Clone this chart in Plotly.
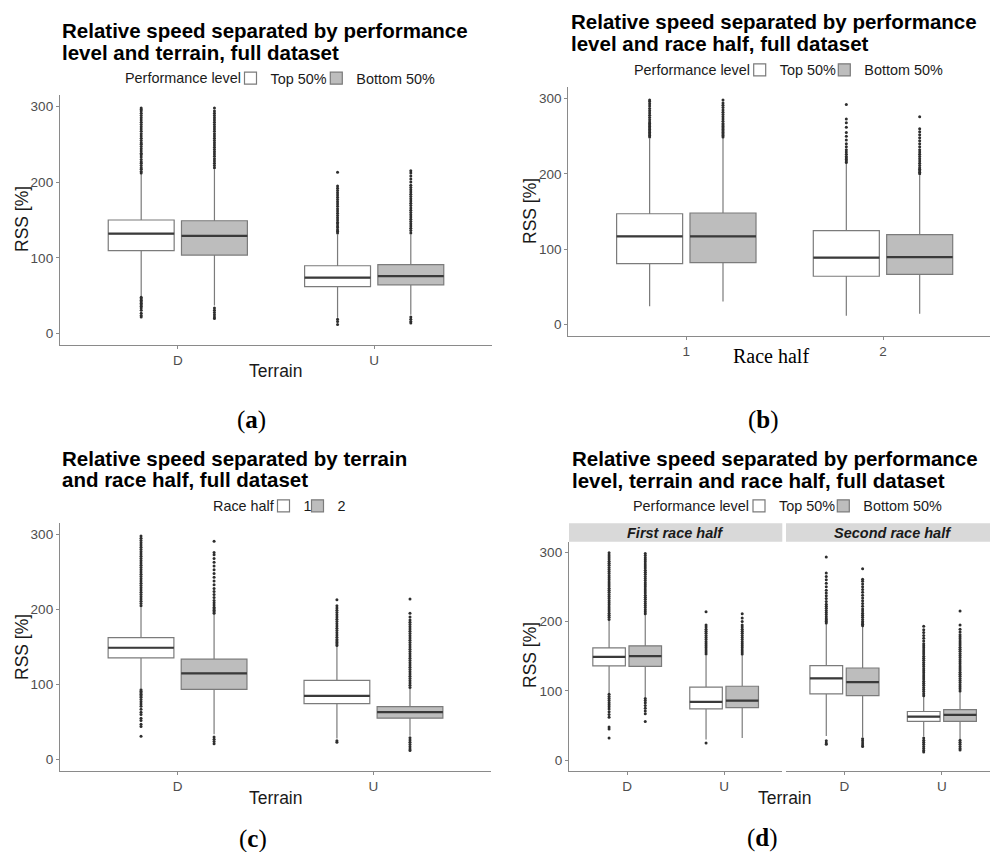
import plotly.graph_objects as go

# ---------------- data ----------------
TERRAIN = ["D", "U"]
HALVES = ["1", "2"]

# five-number boxes per category: [lower whisker, Q1, median, Q3, upper whisker]
# (a) performance level x terrain
a_top = [[49, 109.5, 132, 150, 211], [21, 62, 74, 89.6, 131]]
a_bot = [[37, 103.7, 129, 149, 217], [25, 64.4, 76, 91, 131]]
a_top_out = [
    [212, 214, 217, 219, 222, 225, 227, 230, 233, 236, 238, 241, 244, 247, 250, 252, 255, 258, 261, 264,
     267, 270, 273, 276, 279, 282, 285, 288, 291, 294, 296, 298,
     48, 46, 44, 42, 40, 38, 36, 34, 31, 27, 24, 22],
    [133, 135, 137, 140, 142, 145, 147, 150, 153, 156, 159, 162, 165, 168, 171, 174, 177, 180, 183, 186,
     189, 192, 195, 213, 19, 16, 12],
]
a_bot_out = [
    [219, 222, 225, 228, 231, 234, 237, 240, 243, 246, 249, 252, 255, 258, 261, 264, 267, 270, 273, 276,
     279, 282, 285, 288, 291, 294, 298, 34, 31, 28, 25, 22, 20],
    [133, 136, 139, 142, 145, 148, 151, 154, 157, 160, 163, 166, 169, 172, 175, 178, 181, 184, 187, 190,
     193, 196, 200, 204, 208, 212, 215, 22, 19, 16, 14],
]

# (b) performance level x race half
b_top = [[24, 80.7, 117, 147, 247], [11.5, 64, 88.7, 124.6, 214]]
b_bot = [[30.6, 82, 117, 148, 248], [14, 66.5, 89.5, 119.3, 198]]
b_top_out = [
    [249, 251, 253, 255, 257, 259, 261, 263, 265, 267, 269, 272, 275, 278, 281, 284, 287, 290, 293, 296, 298],
    [215, 217, 219, 221, 223, 226, 229, 232, 236, 240, 245, 250, 255, 262, 268, 273, 292],
]
b_bot_out = [
    [249, 251, 253, 255, 257, 259, 261, 263, 265, 267, 270, 273, 276, 279, 282, 285, 288, 291, 294, 298],
    [200, 202, 204, 206, 208, 211, 214, 217, 220, 223, 226, 229, 232, 236, 240, 244, 248, 252, 256, 260, 276],
]

# (c) terrain x race half
c_h1 = [[95, 135.4, 149, 162.4, 203], [28, 74.5, 84.7, 105.5, 151]]
c_h2 = [[33.5, 93.6, 114.7, 133.7, 194], [31.6, 55, 63, 70.6, 94]]
c_h1_out = [
    [205, 208, 211, 214, 217, 220, 223, 226, 229, 232, 235, 238, 241, 244, 247, 250, 253, 256, 259, 262,
     265, 268, 271, 274, 277, 280, 283, 286, 289, 292, 295, 298,
     93, 91, 89, 87, 85, 83, 80, 77, 74, 71, 67, 63, 60, 55, 52, 47, 44, 31],
    [152, 154, 156, 158, 160, 163, 166, 169, 172, 175, 178, 181, 184, 187, 190, 193, 196, 199, 202, 205, 213,
     25, 23],
]
c_h2_out = [
    [195, 197, 199, 201, 203, 206, 209, 212, 216, 220, 224, 228, 233, 238, 243, 248, 253, 258, 263, 268,
     273, 276, 291, 30, 27, 24, 21],
    [96, 99, 102, 105, 108, 111, 114, 117, 120, 123, 126, 129, 132, 135, 138, 141, 144, 147, 150, 153,
     156, 159, 162, 165, 168, 171, 174, 177, 180, 183, 186, 190, 195, 214,
     29, 26, 23, 20, 17, 14, 12],
]

# (d) performance level x terrain, faceted by race half
d1_top = [[97, 136, 149, 162, 201], [30, 74.2, 84.2, 105.3, 151]]
d1_bot = [[91, 135.4, 150, 165, 210], [32, 76, 86, 106.7, 152]]
d2_top = [[35, 95.7, 118, 136.3, 197], [34.6, 56, 63, 70.3, 91.7]]
d2_bot = [[33.7, 93.3, 112.5, 133, 192.6], [30.5, 56, 65.5, 73, 98.5]]
d1_top_out = [
    [203, 206, 209, 212, 215, 218, 221, 224, 227, 230, 233, 236, 239, 242, 245, 248, 251, 254, 257, 260,
     263, 266, 269, 272, 275, 278, 281, 284, 287, 290, 293, 296, 299,
     95, 92, 89, 86, 83, 80, 77, 74, 70, 66, 62, 48, 45, 32],
    [153, 156, 159, 162, 165, 168, 171, 174, 177, 180, 183, 186, 189, 192, 195, 214, 25],
]
d1_bot_out = [
    [211, 214, 217, 220, 223, 226, 229, 232, 235, 238, 241, 244, 247, 250, 253, 256, 259, 262, 265, 268,
     271, 274, 277, 280, 283, 286, 289, 292, 295, 298, 89, 86, 83, 79, 75, 71, 67, 56],
    [153, 156, 159, 162, 165, 168, 171, 174, 177, 180, 183, 186, 189, 192, 195, 200, 205, 211],
]
d2_top_out = [
    [198, 200, 202, 204, 207, 210, 213, 216, 219, 222, 225, 229, 233, 237, 241, 245, 250, 255, 260, 265,
     270, 293, 28, 25, 23],
    [93, 96, 99, 102, 105, 108, 111, 114, 117, 120, 123, 126, 129, 132, 135, 138, 141, 144, 147, 150,
     153, 156, 159, 162, 165, 168, 172, 176, 180, 184, 188, 193,
     32, 29, 26, 23, 20, 17, 14, 12],
]
d2_bot_out = [
    [194, 196, 198, 200, 203, 206, 209, 212, 215, 218, 222, 226, 230, 234, 238, 242, 246, 250, 254, 258,
     261, 276, 31, 28, 25, 22, 20],
    [100, 103, 106, 109, 112, 115, 118, 121, 124, 127, 130, 133, 136, 139, 142, 145, 148, 151, 154, 157,
     160, 163, 166, 169, 172, 175, 178, 181, 185, 189, 195, 215,
     29, 26, 23, 20, 17, 15],
]

Y_TICKS = [0, 100, 200, 300]
Y_RANGE = [-15, 315]

TITLES = [
    ["Relative speed separated by performance", "level and terrain, full dataset"],
    ["Relative speed separated by performance", "level and race half, full dataset"],
    ["Relative speed separated by terrain", "and race half, full dataset"],
    ["Relative speed separated by performance", "level, terrain and race half, full dataset"],
]
PERF_LEVELS = ["Top 50%", "Bottom 50%"]
STRIPS = ["First race half", "Second race half"]

# ---------------- style ----------------
W, H = 990, 852
SANS = "Liberation Sans"
SERIF = "Liberation Serif"
FILL_LIGHT = "#ffffff"
FILL_DARK = "#bdbdbd"
BOX_LINE = "#7b7b7b"
MED_LINE = "#3a3a3a"
DOT = "#2e2e2e"
AXIS = "#8a8a8a"
TICKFONT = dict(family=SANS, size=13.5, color="#4d4d4d")
LEG_FONT = 14.4
ICON_OFFSET = 22   # legend x -> icon centre (px)


def px(x):
    return x / W


def py(y):
    return 1 - y / H


fig = go.Figure()


def add_series(name, cats, stats, outliers, xa, ya, fill, group, legend, showlegend):
    lo = [s[0] for s in stats]
    q1 = [s[1] for s in stats]
    med = [s[2] for s in stats]
    q3 = [s[3] for s in stats]
    hi = [s[4] for s in stats]
    common = dict(xaxis=xa, yaxis=ya, offsetgroup=group, alignmentgroup=xa + ya,
                  legend=legend, hoverinfo="skip", whiskerwidth=0)
    fig.add_trace(go.Box(x=cats, q1=q1, median=med, q3=q3, lowerfence=lo, upperfence=hi,
                         name=name, fillcolor=fill, line=dict(color=BOX_LINE, width=1.2),
                         boxpoints=False, showlegend=showlegend, **common))
    # thicker median bar (ggplot style)
    fig.add_trace(go.Box(x=cats, q1=med, median=med, q3=med, lowerfence=med, upperfence=med,
                         name=name, fillcolor="rgba(0,0,0,0)", line=dict(color=MED_LINE, width=2.2),
                         boxpoints=False, showlegend=False, **common))
    # outliers
    ox = [c for c, vals in zip(cats, outliers) for _ in vals]
    oy = [v for vals in outliers for v in vals]
    fig.add_trace(go.Box(x=ox, y=oy, name=name, boxpoints="all", jitter=0, pointpos=0,
                         marker=dict(color=DOT, size=3, line=dict(width=0)),
                         fillcolor="rgba(0,0,0,0)", line=dict(width=0),
                         showlegend=False, **common))


add_series(PERF_LEVELS[0], TERRAIN, a_top, a_top_out, "x", "y", FILL_LIGHT, "g1", "legend", True)
add_series(PERF_LEVELS[1], TERRAIN, a_bot, a_bot_out, "x", "y", FILL_DARK, "g2", "legend2", True)
add_series(PERF_LEVELS[0], HALVES, b_top, b_top_out, "x2", "y2", FILL_LIGHT, "g1", "legend3", True)
add_series(PERF_LEVELS[1], HALVES, b_bot, b_bot_out, "x2", "y2", FILL_DARK, "g2", "legend4", True)
add_series(HALVES[0], TERRAIN, c_h1, c_h1_out, "x3", "y3", FILL_LIGHT, "g1", "legend5", True)
add_series(HALVES[1], TERRAIN, c_h2, c_h2_out, "x3", "y3", FILL_DARK, "g2", "legend6", True)
add_series(PERF_LEVELS[0], TERRAIN, d1_top, d1_top_out, "x4", "y4", FILL_LIGHT, "g1", "legend7", True)
add_series(PERF_LEVELS[1], TERRAIN, d1_bot, d1_bot_out, "x4", "y4", FILL_DARK, "g2", "legend8", True)
add_series(PERF_LEVELS[0], TERRAIN, d2_top, d2_top_out, "x5", "y5", FILL_LIGHT, "g1", "legend7", False)
add_series(PERF_LEVELS[1], TERRAIN, d2_bot, d2_bot_out, "x5", "y5", FILL_DARK, "g2", "legend8", False)


def xax(x0, x1, anchor, cats, rng):
    return dict(domain=[px(x0), min(1, px(x1))], anchor=anchor, type="category",
                categoryorder="array", categoryarray=cats, range=rng,
                showline=True, linecolor=AXIS, linewidth=1.3, ticks="outside", ticklen=3,
                tickcolor=AXIS, tickwidth=1, showgrid=False, zeroline=False, tickfont=TICKFONT,
                fixedrange=True)


def yax(y_top, y_bot, anchor, show=True):
    d = dict(domain=[py(y_bot), py(y_top)], anchor=anchor, range=Y_RANGE, tickvals=Y_TICKS,
             showgrid=False, zeroline=False, fixedrange=True)
    if show:
        d.update(showline=True, linecolor=AXIS, linewidth=1.3, ticks="outside", ticklen=3,
                 tickcolor=AXIS, tickwidth=1, tickfont=TICKFONT)
    else:
        d.update(showline=False, ticks="", showticklabels=False)
    return d


def legend_cfg(icon_x, y):
    return dict(x=px(icon_x - ICON_OFFSET), y=py(y), xanchor="left", yanchor="middle",
                orientation="h", font=dict(family=SANS, size=LEG_FONT, color="#1a1a1a"),
                bgcolor="rgba(0,0,0,0)", borderwidth=0, itemclick=False, itemdoubleclick=False)


annotations = []


def text(x, y, s, size, family=SANS, color="#1a1a1a", xanchor="center", yanchor="middle",
         angle=0, weight="normal", style="normal"):
    annotations.append(dict(x=px(x), y=py(y), xref="paper", yref="paper", text=s, showarrow=False,
                            xanchor=xanchor, yanchor=yanchor, align="left", textangle=angle,
                            font=dict(family=family, size=size, color=color, weight=weight,
                                      style=style)))


# panel titles (two lines each)
TITLE_POS = [(60, 30.3, 52.2), (569, 21.7, 43.5), (60, 458.8, 479.8), (570, 458.2, 480.5)]
for (tx, ty1, ty2), lines in zip(TITLE_POS, TITLES):
    text(tx, ty1, lines[0], 20.5, xanchor="left", weight="bold", color="#000000")
    text(tx, ty2, lines[1], 20.5, xanchor="left", weight="bold", color="#000000")

# legend titles
text(122.7, 78.3, "Performance level", LEG_FONT, xanchor="left")
text(631.7, 70, "Performance level", LEG_FONT, xanchor="left")
text(211, 506, "Race half", LEG_FONT, xanchor="left")
text(631, 506, "Performance level", LEG_FONT, xanchor="left")

# axis titles
text(22, 219, "RSS [%]", 17.5, angle=-90)
text(530, 211, "RSS [%]", 17.5, angle=-90)
text(22, 647, "RSS [%]", 17.5, angle=-90)
text(530, 655, "RSS [%]", 17.5, angle=-90)
text(276, 371, "Terrain", 17.5)
text(771, 356, "Race half", 20, family=SERIF, color="#000000")
text(276, 798, "Terrain", 17.5)
text(785, 798, "Terrain", 17.5)

# facet strips
shapes = [
    dict(type="rect", xref="paper", yref="paper", x0=px(569), x1=px(782.3), y0=py(541.7), y1=py(523.3),
         fillcolor="#d9d9d9", line=dict(width=0), layer="below"),
    dict(type="rect", xref="paper", yref="paper", x0=px(786), x1=1, y0=py(541.7), y1=py(523.3),
         fillcolor="#d9d9d9", line=dict(width=0), layer="below"),
]
text(675.7, 532.5, STRIPS[0], 14.5, weight="bold", style="italic")
text(893, 532.5, STRIPS[1], 14.5, weight="bold", style="italic")

# sub-figure captions
text(252, 420, "(<b>a</b>)", 25, family=SERIF, color="#000000")
text(763, 420, "(<b>b</b>)", 25, family=SERIF, color="#000000")
text(253, 839, "(<b>c</b>)", 25, family=SERIF, color="#000000")
text(762, 838, "(<b>d</b>)", 25, family=SERIF, color="#000000")

fig.update_layout(
    width=W, height=H, margin=dict(l=0, r=0, t=0, b=0),
    paper_bgcolor="white", plot_bgcolor="white",
    boxmode="group", boxgap=0.254, boxgroupgap=0.1,
    xaxis=xax(60, 492, "y", TERRAIN, [-0.6, 1.6]),
    yaxis=yax(95, 345, "x"),
    xaxis2=xax(568.3, 990, "y2", HALVES, [-0.6, 1.544]),
    yaxis2=yax(87.3, 335.7, "x2"),
    xaxis3=xax(60, 491, "y3", TERRAIN, [-0.6, 1.6]),
    yaxis3=yax(523.3, 770.7, "x3"),
    xaxis4=xax(569, 782.3, "y4", TERRAIN, [-0.6, 1.6]),
    yaxis4=yax(541.7, 770.7, "x4"),
    xaxis5=xax(786, 990, "y5", TERRAIN, [-0.6, 1.494]),
    yaxis5=yax(541.7, 770.7, "x5", show=False),
    legend=legend_cfg(252.5, 78.3),
    legend2=legend_cfg(338.3, 78.3),
    legend3=legend_cfg(761.7, 70),
    legend4=legend_cfg(846.3, 70),
    legend5=legend_cfg(285.5, 506),
    legend6=legend_cfg(319.5, 506),
    legend7=legend_cfg(761, 506),
    legend8=legend_cfg(845.3, 506),
    annotations=annotations,
    shapes=shapes,
    showlegend=True,
)

fig.write_html("out.html")
